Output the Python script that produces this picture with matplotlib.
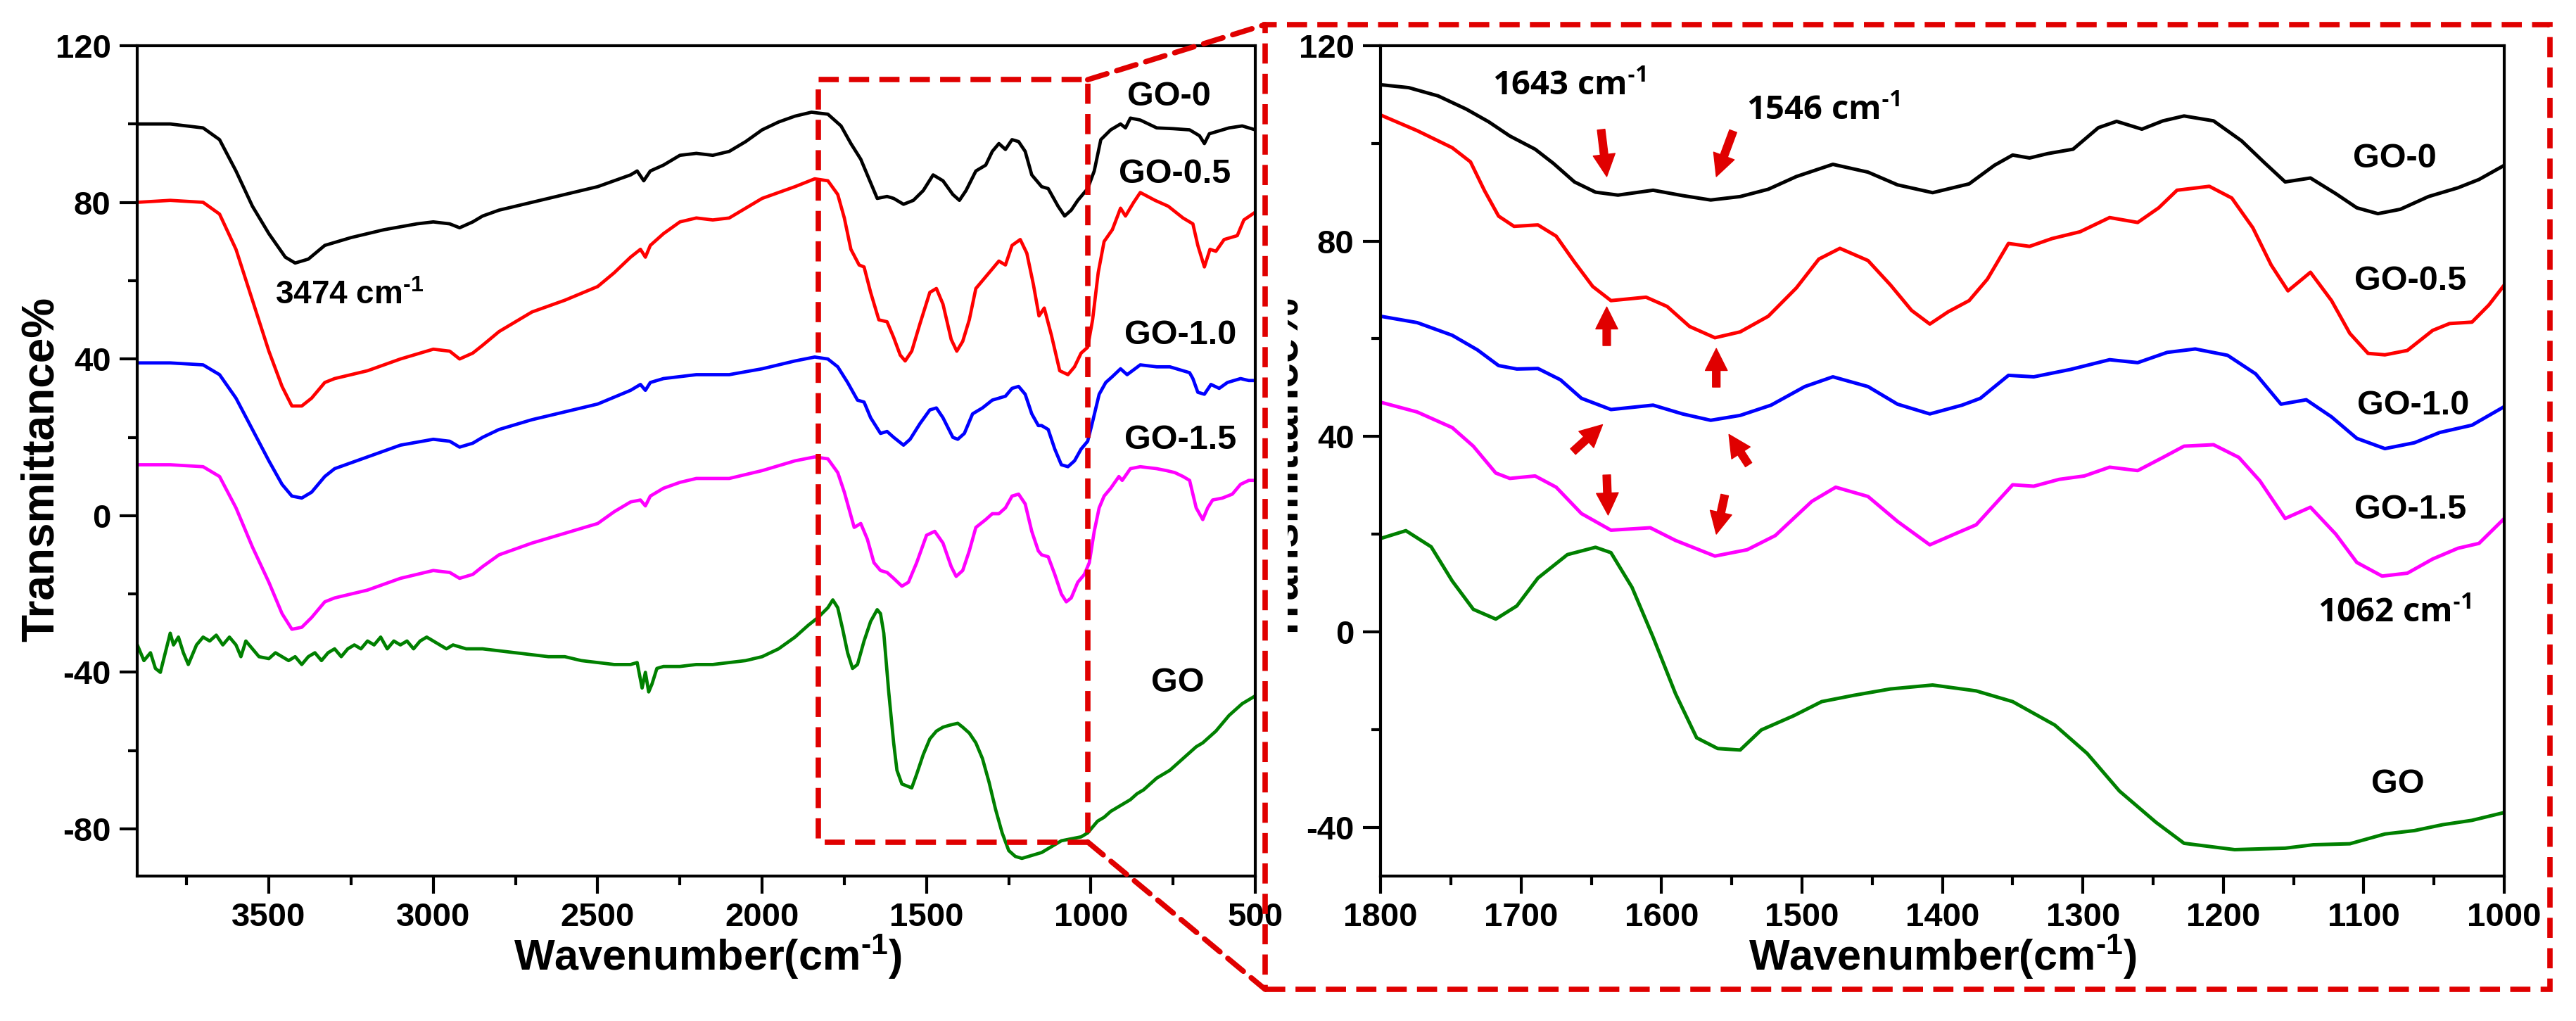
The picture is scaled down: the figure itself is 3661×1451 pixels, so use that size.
import matplotlib
matplotlib.use("Agg")
import matplotlib.pyplot as plt
from matplotlib.patches import Rectangle, ConnectionPatch
from matplotlib.ticker import MultipleLocator
from matplotlib.transforms import Bbox, TransformedBbox

plt.rcParams['font.family'] = ['Liberation Sans', 'DejaVu Sans']
plt.rcParams['font.weight'] = 'bold'
plt.rcParams['axes.labelweight'] = 'bold'
plt.rcParams['axes.unicode_minus'] = False
plt.rcParams['mathtext.default'] = 'regular'

# ---------------- full spectrum (left panel) ----------------
wn_go0 = [3900, 3800, 3700, 3650, 3600, 3550, 3500, 3450, 3420, 3380, 3330, 3250, 3150, 3050, 3000,
          2950, 2920, 2880, 2850, 2800, 2700, 2600, 2500, 2450, 2400, 2380, 2360, 2340, 2300, 2250,
          2200, 2150, 2100, 2050, 2000, 1950, 1900, 1850, 1800, 1760, 1730, 1700, 1670, 1650, 1620,
          1600, 1570, 1540, 1510, 1480, 1450, 1420, 1400, 1380, 1350, 1320, 1300, 1280, 1260, 1240,
          1220, 1200, 1180, 1150, 1130, 1100, 1080, 1060, 1040, 1010, 990, 970, 940, 910, 895,
          880, 850, 800, 750, 700, 670, 655, 640, 620, 580, 540, 520, 500]
t_go0 = [100, 100, 99, 96, 88, 79, 72, 66, 64.5, 65.5, 69, 71, 73, 74.5, 75,
         74.5, 73.5, 75, 76.5, 78, 80, 82, 84, 85.5, 87, 88, 85.5, 88, 89.5, 92,
         92.5, 92, 93, 95.5, 98.5, 100.5, 102, 103, 102.5, 99.5, 95, 91, 85, 81, 81.5,
         81, 79.5, 80.5, 83, 87, 85.5, 82, 80.5, 83, 88, 89.5, 93, 95, 93.5, 96,
         95.5, 93, 87, 84, 83.5, 79, 76.5, 78, 80.5, 83.5, 88, 96, 98.5, 100, 99,
         101.5, 101, 99, 98.8, 98.5, 97, 95, 97.5, 98, 99, 99.5, 99, 98.5]

wn_go05 = [3900, 3800, 3700, 3650, 3600, 3550, 3500, 3460, 3430, 3400, 3370, 3330, 3300, 3200, 3100,
           3000, 2950, 2920, 2880, 2850, 2800, 2700, 2600, 2500, 2450, 2400, 2370, 2355, 2340, 2300,
           2250, 2200, 2150, 2100, 2050, 2000, 1900, 1840, 1800, 1770, 1750, 1730, 1705, 1690, 1670,
           1645, 1620, 1600, 1580, 1565, 1545, 1520, 1490, 1470, 1450, 1425, 1408, 1390, 1370, 1350,
           1320, 1300, 1280, 1260, 1240, 1215, 1195, 1175, 1158, 1142, 1120, 1095, 1070, 1050, 1030,
           1010, 995, 978, 960, 935, 910, 895, 870, 850, 805, 765, 720, 690, 675, 655,
           638, 620, 595, 555, 535, 500]
t_go05 = [80, 80.5, 80, 77, 68, 55, 42, 33, 28, 28, 30, 34, 35, 37, 40,
          42.5, 42, 40, 41.5, 43.5, 47, 52, 55, 58.5, 62, 66, 68, 66, 69, 72,
          75, 76, 75.5, 76, 78.5, 81, 84, 86, 85.5, 82, 76, 68, 64, 63.5, 57,
          50, 49.5, 45.5, 41, 39.5, 42, 49, 57, 58, 54, 45, 42, 44.5, 50, 58,
          61, 63, 65, 64, 69, 70.5, 67, 59, 51, 53, 46, 37, 36, 38, 41.5,
          43, 50, 62, 70, 73, 78.5, 76.5, 80, 82.5, 80.5, 79, 76, 74.5, 69, 63.5,
          68, 67.5, 70.5, 71.5, 75.5, 77.5]

wn_go10 = [3900, 3800, 3700, 3650, 3600, 3550, 3500, 3460, 3430, 3400, 3370, 3330, 3300, 3200, 3100,
           3000, 2950, 2920, 2880, 2850, 2800, 2700, 2600, 2500, 2400, 2370, 2355, 2340, 2300, 2250,
           2200, 2100, 2000, 1900, 1840, 1800, 1770, 1740, 1710, 1690, 1670, 1640, 1620, 1600, 1570,
           1550, 1520, 1490, 1470, 1450, 1420, 1405, 1385, 1360, 1330, 1300, 1280, 1260, 1240, 1220,
           1200, 1180, 1160, 1150, 1130, 1110, 1090, 1070, 1050, 1030, 1010, 995, 975, 955, 935,
           910, 890, 850, 800, 760, 720, 700, 690, 675, 655, 635, 610, 585, 545, 520, 500]
t_go10 = [39, 39, 38.5, 36, 30, 22, 14, 8, 5, 4.5, 6, 10, 12, 15, 18,
          19.5, 19, 17.5, 18.5, 20, 22, 24.5, 26.5, 28.5, 32, 33.5, 32, 34, 35, 35.5,
          36, 36, 37.5, 39.5, 40.5, 40, 38, 34, 29.5, 29, 25, 21, 21.5, 20, 18,
          19.5, 23.5, 27, 27.5, 25, 20, 19.5, 21, 26, 27.5, 29.5, 30, 30.5, 32.5, 33,
          31, 26, 23, 23, 22, 17, 13, 12.5, 14, 17, 19, 24, 31, 34, 35.5,
          37.5, 36, 38.5, 38, 38, 37, 36.5, 35, 31.5, 31, 33.5, 32.5, 34, 35, 34.5, 34.5]

wn_go15 = [3900, 3800, 3700, 3650, 3600, 3550, 3500, 3460, 3430, 3400, 3370, 3330, 3300, 3200, 3100,
           3000, 2950, 2920, 2880, 2850, 2800, 2700, 2600, 2500, 2450, 2400, 2370, 2355, 2340, 2300,
           2250, 2200, 2100, 2000, 1900, 1840, 1800, 1770, 1750, 1720, 1700, 1680, 1660, 1640, 1620,
           1600, 1575, 1555, 1530, 1500, 1475, 1450, 1425, 1410, 1390, 1370, 1350, 1320, 1300, 1280,
           1260, 1240, 1220, 1200, 1180, 1160, 1150, 1130, 1110, 1090, 1075, 1060, 1040, 1020, 1005,
           990, 975, 960, 940, 915, 905, 880, 850, 800, 770, 745, 720, 700, 680, 660,
           645, 630, 600, 570, 545, 520, 500]
t_go15 = [13, 13, 12.5, 10, 2, -8, -17, -25, -29, -28.5, -26, -22, -21, -19, -16,
          -14, -14.5, -16, -15, -13, -10, -7, -4.5, -2, 1, 3.5, 4, 2.5, 5, 7,
          8.5, 9.5, 9.5, 11.5, 14, 15, 14.5, 11, 6, -3, -2, -6, -12, -14, -14.5,
          -16, -18, -17, -12, -5, -4, -7, -13, -15.5, -14, -9, -3, -1, 0.5, 0.5,
          2, 5, 5.5, 3, -4, -9, -10, -10.5, -15, -20, -22, -21, -17, -15, -12,
          -4, 2, 5, 7, 10, 9, 12, 12.5, 12, 11.5, 11, 10, 9, 2, -1,
          2, 4, 4.5, 5.5, 8, 9, 9]

wn_go = [3900, 3880, 3860, 3845, 3830, 3815, 3800, 3790, 3775, 3760, 3745, 3735, 3720, 3700, 3680,
         3660, 3640, 3620, 3600, 3585, 3570, 3550, 3530, 3500, 3480, 3460, 3440, 3420, 3400, 3380,
         3360, 3340, 3320, 3300, 3280, 3260, 3240, 3220, 3200, 3180, 3160, 3140, 3120, 3100, 3080,
         3060, 3040, 3020, 3000, 2980, 2960, 2940, 2900, 2850, 2800, 2750, 2700, 2650, 2600, 2550,
         2500, 2450, 2400, 2380, 2365, 2355, 2345, 2335, 2320, 2300, 2250, 2200, 2150, 2100, 2050,
         2000, 1950, 1900, 1860, 1830, 1800, 1785, 1770, 1755, 1740, 1725, 1710, 1690, 1670, 1650,
         1640, 1630, 1615, 1600, 1590, 1575, 1560, 1545, 1530, 1510, 1490, 1470, 1450, 1430, 1405,
         1390, 1370, 1350, 1330, 1310, 1290, 1270, 1250, 1230, 1210, 1190, 1170, 1150, 1130, 1110,
         1090, 1060, 1030, 1010, 1000, 980, 960, 940, 920, 900, 880, 860, 840, 820, 800,
         780, 760, 740, 720, 700, 680, 660, 640, 620, 600, 580, 560, 540, 520, 500]
t_go = [-33, -37, -35, -39, -40, -35, -30, -33, -31, -35, -38, -36, -33, -31, -32,
        -30.5, -33, -31, -33, -36, -32, -34, -36, -36.5, -35, -36, -37, -36, -38, -36,
        -35, -37, -35, -34, -36, -34, -33, -34, -32, -33, -31, -34, -32, -33, -32,
        -34, -32, -31, -32, -33, -34, -33, -34, -34, -34.5, -35, -35.5, -36, -36, -37,
        -37.5, -38, -38, -37.5, -44, -40, -45, -43, -39, -38.5, -38.5, -38, -38, -37.5, -37,
        -36, -34, -31, -28, -26, -23.5, -21.5, -23.5, -29, -35, -39, -38, -32, -27, -24,
        -25, -30, -45, -58, -65, -68.5, -69, -69.5, -66, -61, -57, -55, -54, -53.5, -53,
        -54, -55.5, -58, -62, -68, -75, -81, -85.5, -87, -87.5, -87, -86.5, -86, -85, -84,
        -83, -82.5, -82, -81, -80, -78, -77, -75.5, -74.5, -73.5, -72.5, -71, -70, -68.5, -67,
        -66, -65, -63.5, -62, -60.5, -59, -58, -56.5, -55, -53, -51, -49.5, -48, -47, -46]

# ---------------- zoomed region 1800-1000 (right panel) ----------------
wz_go0 = [1800, 1780, 1759, 1739, 1723, 1708, 1690, 1677, 1662, 1647, 1631, 1606, 1585, 1565, 1544,
          1524, 1504, 1478, 1453, 1432, 1407, 1381, 1363, 1350, 1338, 1325, 1307, 1289, 1276, 1258,
          1243, 1228, 1207, 1187, 1171, 1156, 1138, 1120, 1105, 1090, 1074, 1054, 1033, 1018, 1000]
tz_go0 = [112.0, 111.4, 109.7, 107.0, 104.4, 101.5, 98.8, 95.9, 92.1, 90.0, 89.4, 90.4, 89.3, 88.4, 89.1,
          90.6, 93.2, 95.7, 94.1, 91.5, 89.9, 91.7, 95.5, 97.6, 97.0, 97.9, 98.8, 103.2, 104.5, 102.9,
          104.6, 105.6, 104.6, 100.5, 96.1, 92.1, 92.9, 89.7, 86.8, 85.6, 86.5, 89.1, 90.9, 92.6, 95.5]

wz_go05 = [1800, 1774, 1749, 1736, 1726, 1716, 1705, 1688, 1675, 1662, 1649, 1636, 1611, 1596, 1580,
           1562, 1544, 1524, 1504, 1488, 1473, 1453, 1437, 1422, 1409, 1396, 1381, 1368, 1353, 1338,
           1322, 1302, 1281, 1261, 1246, 1233, 1210, 1194, 1179, 1166, 1154, 1138, 1123, 1110, 1097,
           1085, 1069, 1051, 1039, 1023, 1011, 1000]
tz_go05 = [105.8, 102.6, 99.1, 96.2, 90.3, 85.1, 83.0, 83.3, 81.0, 75.7, 70.7, 67.8, 68.5, 66.6, 62.5,
           60.2, 61.4, 64.6, 70.4, 76.3, 78.5, 76.0, 71.0, 65.8, 63.0, 65.5, 67.8, 72.2, 79.5, 78.9,
           80.5, 81.9, 84.8, 83.8, 86.8, 90.4, 91.2, 88.8, 82.7, 75.1, 69.8, 73.6, 67.8, 61.1, 57.0,
           56.7, 57.6, 61.7, 63.1, 63.4, 66.9, 71.0]

wz_go10 = [1800, 1774, 1749, 1731, 1716, 1703, 1688, 1672, 1657, 1636, 1606, 1585, 1565, 1544, 1522,
           1498, 1478, 1453, 1432, 1409, 1386, 1373, 1353, 1335, 1309, 1281, 1261, 1240, 1220, 1197,
           1177, 1159, 1141, 1123, 1105, 1085, 1064, 1046, 1023, 1000]
tz_go10 = [64.6, 63.3, 60.7, 57.7, 54.5, 53.8, 53.9, 51.6, 47.8, 45.5, 46.4, 44.6, 43.3, 44.3, 46.4,
           50.2, 52.2, 50.2, 46.6, 44.6, 46.4, 47.8, 52.5, 52.2, 53.7, 55.7, 55.1, 57.2, 57.9, 56.6,
           52.8, 46.6, 47.5, 44.0, 39.6, 37.5, 38.7, 40.8, 42.3, 46.1]

wz_go15 = [1800, 1774, 1749, 1734, 1718, 1708, 1690, 1675, 1657, 1636, 1608, 1590, 1562, 1539, 1519,
           1493, 1476, 1453, 1432, 1409, 1389, 1376, 1350, 1335, 1317, 1299, 1281, 1261, 1243, 1228,
           1207, 1189, 1174, 1156, 1138, 1120, 1105, 1087, 1069, 1051, 1033, 1018, 1000]
tz_go15 = [47.0, 45.0, 41.8, 38.0, 32.5, 31.4, 31.9, 29.6, 24.2, 20.8, 21.3, 18.7, 15.5, 16.8, 19.7,
           26.7, 29.6, 27.7, 22.6, 17.8, 20.3, 21.9, 30.1, 29.8, 31.2, 31.9, 33.7, 33.0, 35.7, 38.0,
           38.3, 35.7, 30.9, 23.2, 25.5, 20.0, 14.2, 11.4, 12.0, 14.9, 17.1, 18.1, 23.2]

wz_go = [1800, 1782, 1764, 1749, 1734, 1718, 1703, 1688, 1667, 1647, 1636, 1621, 1606, 1590, 1575,
         1560, 1544, 1529, 1506, 1486, 1463, 1437, 1407, 1376, 1350, 1320, 1297, 1274, 1248, 1228,
         1192, 1156, 1136, 1110, 1085, 1064, 1044, 1023, 1000]
tz_go = [19.1, 20.7, 17.4, 10.4, 4.6, 2.6, 5.3, 11.0, 15.8, 17.3, 16.2, 9.1, -1.1, -12.7, -21.7,
         -23.9, -24.2, -20.1, -17.2, -14.3, -13.0, -11.7, -10.9, -12.1, -14.3, -19.1, -24.9, -32.6, -39.0, -43.3,
         -44.6, -44.3, -43.6, -43.4, -41.4, -40.7, -39.5, -38.6, -37.0]

names = ['GO-0', 'GO-0.5', 'GO-1.0', 'GO-1.5', 'GO']
colors = ['black', '#ff0000', '#0000ff', '#ff00ff', '#008000']

left_lab_x = [763, 745, 727, 727, 737]
left_lab_y = [106.9, 87.1, 46.0, 19.3, -42.7]
right_lab_x = [1078, 1067, 1065, 1067, 1076]
right_lab_y = [96.9, 71.8, 46.3, 25.0, -31.2]

# zoom window drawn on the left panel
zoom_x = [1830, 1010]
zoom_y = [-83.3, 111.3]

# peak-marker arrows in the right panel (tail -> head)
arr_tail_x = [1643, 1549, 1639, 1561, 1663, 1538, 1639, 1555]
arr_tail_y = [102.8, 102.5, 58.6, 50.1, 36.9, 34.2, 32.1, 28.0]
arr_head_x = [1639, 1561, 1639, 1561, 1642, 1552, 1638, 1561]
arr_head_y = [93.2, 93.2, 66.5, 58.0, 42.4, 40.4, 23.9, 20.0]

RED = '#e00000'
SUP = '$^{\u2010' + '1}$'   # small "-1" superscript with a plain hyphen

fig = plt.figure(figsize=(36.62, 14.51), dpi=100)
ax1 = fig.add_axes([0.0533, 0.142, 0.4339, 0.8133])
ax2 = fig.add_axes([0.5358, 0.142, 0.4361, 0.8133])


def style_axes(ax, xmaj, ymaj):
    for sp in ax.spines.values():
        sp.set_linewidth(3)
    ax.xaxis.set_major_locator(MultipleLocator(xmaj))
    ax.xaxis.set_minor_locator(MultipleLocator(xmaj / 2))
    ax.yaxis.set_major_locator(MultipleLocator(ymaj))
    ax.yaxis.set_minor_locator(MultipleLocator(ymaj / 2))
    ax.tick_params(which='major', direction='out', length=18, width=3, labelsize=34, pad=9)
    ax.tick_params(which='minor', direction='out', length=9.5, width=3)


left_series = [(wn_go0, t_go0), (wn_go05, t_go05), (wn_go10, t_go10), (wn_go15, t_go15), (wn_go, t_go)]
for (x, y), c in zip(left_series, colors):
    ax1.plot(x, y, color=c, lw=3.4)
ax1.set_xlim(3900, 500)
ax1.set_ylim(-92, 120)
style_axes(ax1, 500, 40)
ax1.set_xlabel('Wavenumber(cm' + SUP + ')', fontsize=44, fontweight='bold')
ax1.xaxis.set_label_coords(0.51, -0.068)
ax1.set_ylabel('Transmittance%', fontsize=46, fontweight='bold')
ax1.yaxis.set_label_coords(-0.067, 0.49)
for n, lx, ly in zip(names, left_lab_x, left_lab_y):
    ax1.text(lx, ly, n, fontsize=35, ha='center', va='center')
ax1.text(3256, 56.2, '3474 cm' + SUP, fontsize=33, ha='center', va='center')

ax1.add_patch(Rectangle((zoom_x[1], zoom_y[0]), zoom_x[0] - zoom_x[1], zoom_y[1] - zoom_y[0],
                        fill=False, edgecolor=RED, lw=5.5, linestyle=(0, (3.75, 1.9)),
                        zorder=5, clip_on=False))

right_series = [(wz_go0, tz_go0), (wz_go05, tz_go05), (wz_go10, tz_go10), (wz_go15, tz_go15), (wz_go, tz_go)]
for (x, y), c in zip(right_series, colors):
    ax2.plot(x, y, color=c, lw=3.6)
ax2.set_xlim(1800, 1000)
ax2.set_ylim(-50, 120)
style_axes(ax2, 100, 40)
ax2.set_xlabel('Wavenumber(cm' + SUP + ')', fontsize=44, fontweight='bold')
ax2.xaxis.set_label_coords(0.5, -0.068)
ylab = ax2.set_ylabel('Transmittance%', fontsize=46, fontweight='bold')
ax2.yaxis.set_label_coords(-0.066, 0.49)
ylab.set_clip_box(TransformedBbox(Bbox([[1830 / 3662, 0], [1, 1]]), fig.transFigure))
ylab.set_clip_on(True)
for n, lx, ly in zip(names, right_lab_x, right_lab_y):
    ax2.text(lx, ly, n, fontsize=35, ha='center', va='center')

note_font = dict(family=['Open Sans', 'Liberation Sans'], fontsize=34, fontweight='bold',
                 ha='center', va='center')
ax2.text(1666, 111.7, '1643 cm' + SUP, **note_font)
ax2.text(1485, 106.6, '1546 cm' + SUP, **note_font)
ax2.text(1078, 3.8, '1062 cm' + SUP, **note_font)

for tx, ty, hx, hy in zip(arr_tail_x, arr_tail_y, arr_head_x, arr_head_y):
    ax2.annotate('', xy=(hx, hy), xytext=(tx, ty),
                 arrowprops=dict(arrowstyle='simple,head_length=0.75,head_width=0.75,tail_width=0.26',
                                 color=RED, shrinkA=0, shrinkB=0, mutation_scale=30))

# big dashed frame round the zoomed panel and the two connecting lines
bx0, by0, bx1, by1 = 1798 / 3662, 1 - 1406 / 1451, 3624 / 3662, 1 - 35 / 1451
fig.add_artist(Rectangle((bx0, by0), bx1 - bx0, by1 - by0, transform=fig.transFigure,
                         fill=False, edgecolor=RED, lw=5.5, linestyle=(0, (3.75, 1.9)), zorder=5))
for yd, yf in [(zoom_y[1], by1), (zoom_y[0], by0)]:
    con = ConnectionPatch(xyA=(zoom_x[1], yd), coordsA=ax1.transData,
                          xyB=(bx0, yf), coordsB=fig.transFigure,
                          color=RED, lw=5.5, linestyle=(0, (3.75, 1.9)), zorder=5)
    fig.add_artist(con)

fig.savefig('out.png', dpi=100)
